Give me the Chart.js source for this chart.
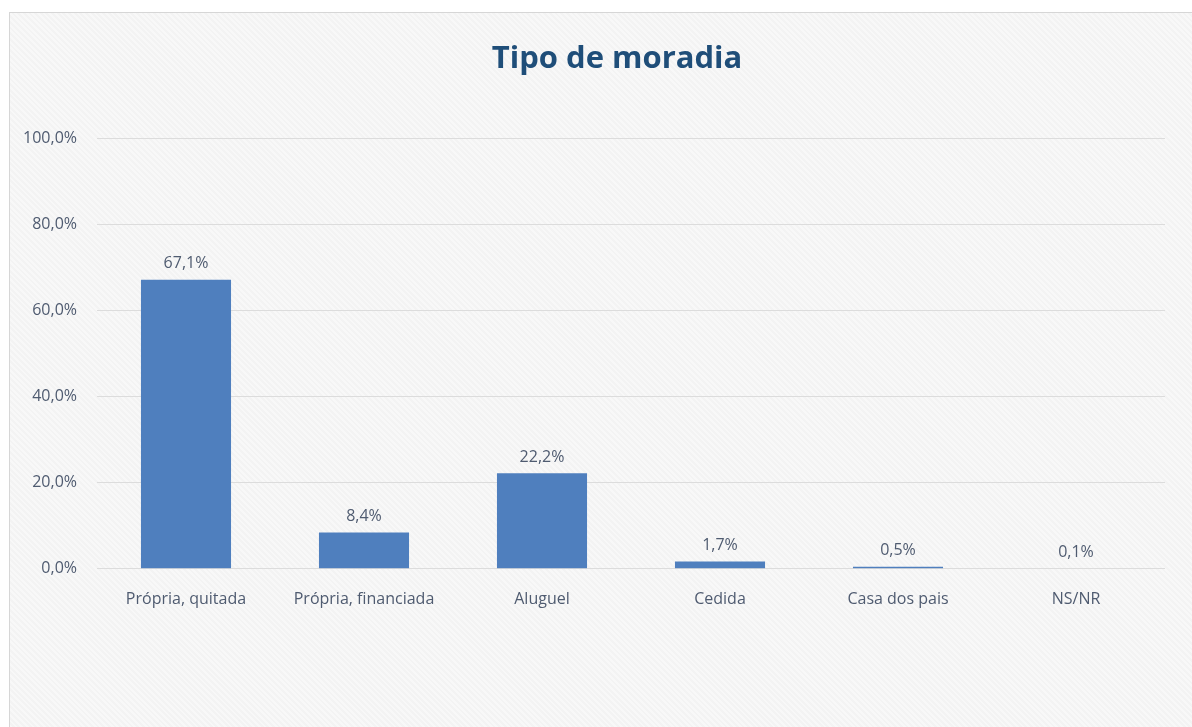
<!DOCTYPE html>
<html>
<head>
<meta charset="utf-8">
<script src="https://cdn.jsdelivr.net/npm/chart.js@4/dist/chart.umd.min.js"></script>
<style>
	html, body { margin: 0; padding: 0; background: #ffffff; overflow: hidden; }
	#frame {
		position: absolute; left: 9px; top: 12px; width: 1300px; height: 740px;
		border: 1px solid #d6d6d6;
		background: repeating-linear-gradient(45deg, #f3f3f3 0px, #f3f3f3 2px, #f8f8f8 2px, #f8f8f8 4px);
	}
	#wrap { position: absolute; left: 10px; top: 13px; width: 1214px; height: 714px; }
</style>
</head>
<body>
<div id="frame"></div>
<div id="wrap"><canvas id="chart"></canvas></div>
<script>
const chartTitle = 'Tipo de moradia';
const categories = ['Própria, quitada', 'Própria, financiada', 'Aluguel', 'Cedida', 'Casa dos pais', 'NS/NR'];
const values = [67.1, 8.4, 22.2, 1.7, 0.5, 0.1];
const yTicks = [0, 20, 40, 60, 80, 100];

const textColor = '#4f5b70';
const fontFamily = '"Open Sans", "Liberation Sans", sans-serif';

function pct(v)
{
	return v.toFixed(1).replace('.', ',') + '%';
}

// title centred on the whole frame, not on the plot
const frameTitle = {
	id: 'frameTitle',
	afterDraw(chart)
	{
		const ctx = chart.ctx;
		ctx.save();
		ctx.font = 'bold 31px ' + fontFamily;
		ctx.fillStyle = '#1f4e79';
		ctx.textAlign = 'center';
		ctx.textBaseline = 'middle';
		ctx.fillText(chartTitle, chart.width / 2, 46.6);
		ctx.restore();
	}
};

// value labels above each bar
const barLabels = {
	id: 'barLabels',
	afterDatasetsDraw(chart)
	{
		const ctx = chart.ctx;
		const meta = chart.getDatasetMeta(0);
		ctx.save();
		ctx.font = '16px ' + fontFamily;
		ctx.fillStyle = textColor;
		ctx.textAlign = 'center';
		ctx.textBaseline = 'bottom';
		meta.data.forEach((bar, i) => {
			ctx.fillText(pct(values[i]), bar.x, bar.y - 8);
		});
		ctx.restore();
	}
};

new Chart(document.getElementById('chart'), {
	type: 'bar',
	data: {
		labels: categories,
		datasets: [
			{
				data: values,
				backgroundColor: '#4f7fbe',
				barPercentage: 0.506,
				categoryPercentage: 1.0,
			}
		]
	},
	options: {
		responsive: true,
		maintainAspectRatio: false,
		animation: false,
		layout: {
			padding: { left: 0, right: 59, top: 125, bottom: 97 }
		},
		plugins: {
			legend: { display: false },
			tooltip: { enabled: false },
			title: { display: false },
		},
		scales: {
			x: {
				grid: { display: false, drawTicks: false },
				border: { display: false },
				ticks: {
					color: textColor,
					font: { family: fontFamily, size: 16 },
					padding: 21,
					maxRotation: 0,
				}
			},
			y: {
				min: 0,
				max: 100,
				afterFit(scale) { scale.width = 87; },
				afterBuildTicks(scale) { scale.ticks = yTicks.map(v => ({ value: v })); },
				grid: { color: '#dcdcdc', drawTicks: false },
				border: { display: false },
				ticks: {
					color: textColor,
					font: { family: fontFamily, size: 16 },
					padding: 20,
					callback: v => pct(v),
				}
			}
		}
	},
	plugins: [barLabels, frameTitle]
});
</script>
</body>
</html>
